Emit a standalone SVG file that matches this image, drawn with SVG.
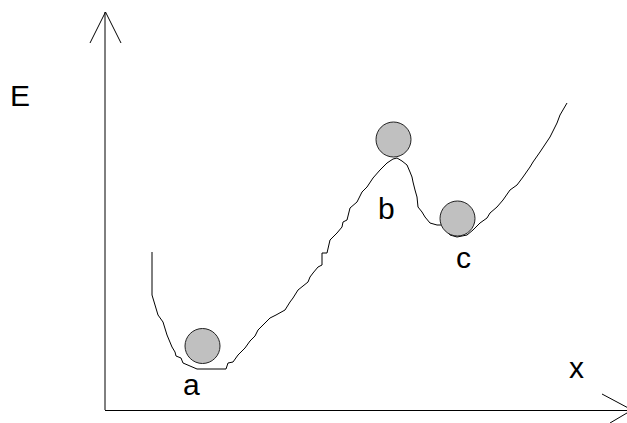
<svg xmlns="http://www.w3.org/2000/svg" width="627" height="423" viewBox="0 0 627 423">
<style>
.lbl{font-family:"Liberation Sans",Arial,sans-serif;font-size:30px;fill:#000}
.ax{stroke:#000;stroke-width:1;fill:none}
.curve{stroke:#000;stroke-width:1;fill:none;stroke-linejoin:round}
.ball{fill:#c0c0c0;stroke:#222;stroke-width:1}
</style>
<rect width="627" height="423" fill="#fff"/>
<g id="axes">
<line class="ax" x1="105" y1="12" x2="105" y2="410"/>
<polyline class="ax" points="90,43 105.5,12 121,43"/>
<line class="ax" x1="105" y1="410.5" x2="632" y2="410.5"/>
<polyline class="ax" points="602,394 632,410 610,423"/>
</g>
<g id="curve">
<polyline class="curve" points="152,252 152,295 155,305 158,315 163,322 167,335 172,347 175,352 176,356 181,358 183,363 190,366 197,369 226,369 228,363 233,362 238,355 245,348 250,341 255,336 258,330 264,324 270,318 276,315 285,310 290,302 293,298 298,290 303,286 308,282 310,277 313,273 318,267 322,265 322,253 327,253 330,240 337,233 342,227 343,222 347,220 350,208 357,202 362,192 367,187 373,178 380,170 387,163 393,159 397,158 402,161 407,165 410,172 412,177 413,182 415,190 417,197 418,207 422,212 425,217 430,223 437,225 442,225 445,228 450,235 457,237 467,235 473,230 480,223 487,218 490,213 497,207 503,200 510,190 517,185 523,177 530,167 533,162 540,152 550,137 557,123 560,115 567,103"/>
</g>
<g id="ball-a"><circle class="ball" cx="202.5" cy="346" r="17.5"/></g>
<g id="ball-b"><circle class="ball" cx="393.5" cy="139.5" r="17.5"/></g>
<g id="ball-c"><circle class="ball" cx="457.5" cy="218.5" r="17.5"/></g>
<g id="labels">
<text class="lbl" x="10" y="106">E</text>
<text class="lbl" x="183" y="395">a</text>
<text class="lbl" x="378" y="219">b</text>
<text class="lbl" x="456" y="268">c</text>
<text class="lbl" x="569" y="378">x</text>
</g>
</svg>
